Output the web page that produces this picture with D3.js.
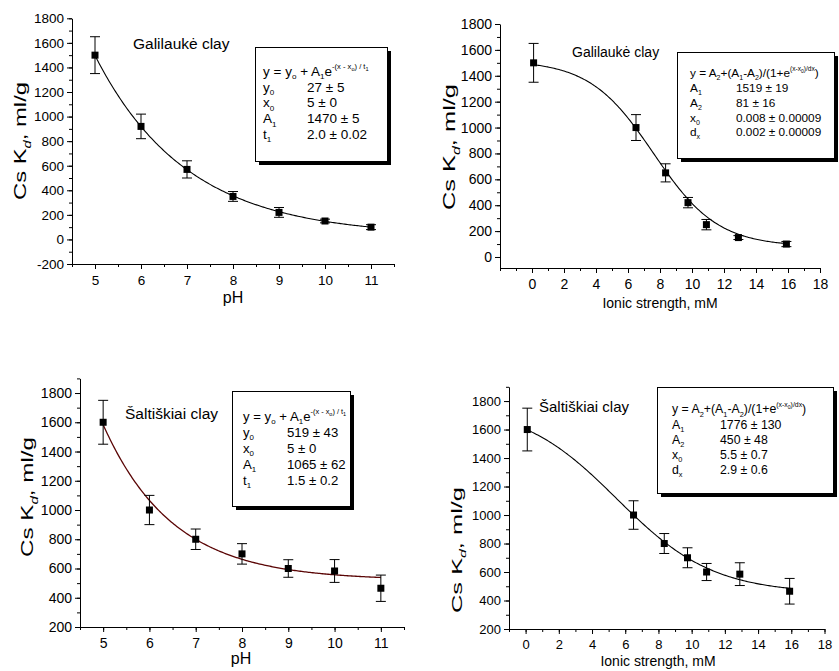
<!DOCTYPE html>
<html>
<head>
<meta charset="utf-8">
<script src="https://cdn.jsdelivr.net/npm/d3@7"></script>
<style>
  body { margin: 0; background: #fff; }
  svg { display: block; }
  text { font-family: "Liberation Sans", Arial, Helvetica, sans-serif; fill: #000; }
</style>
</head>
<body>
<svg id="chart" width="839" height="671"></svg>
<script>
// ---- measured sorption data (Cs Kd, ml/g) ----
const phLevels = [5, 6, 7, 8, 9, 10, 11];
const galilaukePhKd = [1500, 920, 570, 350, 220, 150, 100];
const galilaukePhErr = [150, 100, 70, 40, 40, 15, 20];
const saltiskiaiPhKd = [1600, 1000, 800, 700, 600, 583, 465];
const saltiskiaiPhErr = [150, 100, 70, 70, 60, 78, 90];

const ionicStrength = [0.1, 6.5, 8.35, 9.75, 10.9, 12.9, 15.9]; // mM
const galilaukeIsKd = [1500, 1000, 650, 420, 250, 150, 100];
const galilaukeIsErr = [150, 100, 70, 40, 40, 15, 20];
const saltiskiaiIsKd = [1600, 1000, 800, 700, 600, 585, 465];
const saltiskiaiIsErr = [150, 100, 70, 70, 60, 80, 90];

// ---- fitted model parameters ----
const galilaukePhFit = [27, 5, 1470, 2.0];     // y0, x0, A1, t1
const saltiskiaiPhFit = [519, 5, 1065, 1.5];   // y0, x0, A1, t1
const galilaukeIsFit = [1519, 81, 7.6, 2.0];   // A1, A2, x0 (mM), dx (mM)
const saltiskiaiIsFit = [1776, 450, 5.5, 2.9]; // A1, A2, x0 (mM), dx (mM)

// ---- axis ticks ----
const phTicks = [5, 6, 7, 8, 9, 10, 11];
const ionicTicks = [0, 2, 4, 6, 8, 10, 12, 14, 16, 18];
const kdTicksTop = [-200, 0, 200, 400, 600, 800, 1000, 1200, 1400, 1600, 1800];
const kdTicksIonicTop = [0, 200, 400, 600, 800, 1000, 1200, 1400, 1600, 1800];
const kdTicksBottom = [200, 400, 600, 800, 1000, 1200, 1400, 1600, 1800];

// ---- fit tables ----
const expEquation = [["y = y", ""], ["o", "sub"], [" + A", ""], ["1", "sub"], ["e", ""],
  ["-(x - x", "sup"], ["o", "supsub"], [") / t", "sup"], ["1", "supsub"]];
const sigEquation = [["y = A", ""], ["2", "sub"], ["+(A", ""], ["1", "sub"], ["-A", ""], ["2", "sub"],
  [")/(1+e", ""], ["(x-x", "sup"], ["0", "supsub"], [")/dx", "sup"], [")", ""]];
const galilaukePhRows = [[["y", "0"], "27 ± 5"], [["x", "0"], "5 ± 0"], [["A", "1"], "1470 ± 5"], [["t", "1"], "2.0 ± 0.02"]];
const saltiskiaiPhRows = [[["y", "0"], "519 ± 43"], [["x", "0"], "5 ± 0"], [["A", "1"], "1065 ± 62"], [["t", "1"], "1.5 ± 0.2"]];
const galilaukeIsRows = [[["A", "1"], "1519 ± 19"], [["A", "2"], "81 ± 16"], [["x", "0"], "0.008 ± 0.00009"], [["d", "x"], "0.002 ± 0.00009"]];
const saltiskiaiIsRows = [[["A", "1"], "1776 ± 130"], [["A", "2"], "450 ± 48"], [["x", "0"], "5.5 ± 0.7"], [["d", "x"], "2.9 ± 0.6"]];

const expDecay = p => x => p[0] + p[2] * Math.exp(-(x - p[1]) / p[3]);
const boltzmann = p => x => p[1] + (p[0] - p[1]) / (1 + Math.exp((x - p[2]) / p[3]));

const svg = d3.select("#chart");

// rich text with sub/superscripts, positioned by baseline
function richText(parent, x, y, segs, fs) {
  const t = parent.append("text").attr("x", x).attr("y", y).attr("font-size", fs);
  const mode = {
    "": { off: 0, size: 1 },
    sub: { off: 0.25, size: 0.6 },
    sup: { off: -0.5, size: 0.56 },
    supsub: { off: -0.36, size: 0.42 }
  };
  let cur = 0;
  segs.forEach(([s, m]) => {
    const md = mode[m];
    const off = md.off * fs;
    t.append("tspan").attr("dy", off - cur).attr("font-size", md.size * fs).text(s);
    cur = off;
  });
  return t;
}

function drawPanel(cfg) {
  const g = svg.append("g");
  const x = d3.scaleLinear().domain(cfg.xDomain).range(cfg.xRange);
  const y = d3.scaleLinear().domain(cfg.yDomain).range(cfg.yRange);
  const axisY = cfg.yRange[0], axisX = cfg.xRange[0];

  // minor ticks
  const xMinor = d3.range(cfg.xDomain[0], cfg.xDomain[1] + 1e-9, cfg.xMinorStep);
  const yMinor = d3.range(cfg.yMinorStart, cfg.yDomain[1] + 1e-9, 100);
  g.append("g").attr("transform", `translate(0,${axisY})`)
    .call(d3.axisBottom(x).tickValues(xMinor).tickSize(3).tickSizeOuter(0).tickFormat(""))
    .call(a => a.select(".domain").remove());
  g.append("g").attr("transform", `translate(${axisX},0)`)
    .call(d3.axisLeft(y).tickValues(yMinor).tickSize(3).tickSizeOuter(0).tickFormat(""))
    .call(a => a.select(".domain").remove());

  // major axes
  const xa = g.append("g").attr("transform", `translate(0,${axisY})`)
    .call(d3.axisBottom(x).tickValues(cfg.xTicks).tickSize(5).tickSizeOuter(0).tickPadding(6).tickFormat(d3.format("d")));
  const ya = g.append("g").attr("transform", `translate(${axisX},0)`)
    .call(d3.axisLeft(y).tickValues(cfg.yTicks).tickSize(5).tickSizeOuter(0).tickPadding(3).tickFormat(d3.format("d")));
  [xa, ya].forEach(a => {
    a.selectAll("path,line").attr("stroke", "#000").attr("stroke-width", 1);
    a.selectAll("text").attr("font-size", cfg.tickFont).attr("font-family", "Liberation Sans, Arial, sans-serif").attr("fill", "#000");
  });
  ya.selectAll("text").text(d => d < 0 ? "-" + Math.abs(d) : d);
  g.selectAll(".tick line").attr("stroke", "#000");

  // fit curve
  const xs = d3.range(cfg.fitRange[0], cfg.fitRange[1] + 1e-9, (cfg.fitRange[1] - cfg.fitRange[0]) / 200);
  g.append("path")
    .datum(xs)
    .attr("fill", "none")
    .attr("stroke", cfg.curveColor)
    .attr("stroke-width", cfg.curveWidth)
    .attr("d", d3.line().x(d => x(d)).y(d => y(cfg.model(d))));

  // error bars and markers
  const pts = cfg.xs.map((xv, i) => ({ x: xv, v: cfg.ys[i], e: cfg.errs[i] }));
  const eb = g.append("g").attr("stroke", "#000").attr("stroke-width", 1);
  pts.forEach(p => {
    const cx = x(p.x), top = y(p.v + p.e), bot = y(p.v - p.e);
    eb.append("line").attr("x1", cx).attr("x2", cx).attr("y1", top).attr("y2", bot);
    eb.append("line").attr("x1", cx - 5).attr("x2", cx + 5).attr("y1", top).attr("y2", top);
    eb.append("line").attr("x1", cx - 5).attr("x2", cx + 5).attr("y1", bot).attr("y2", bot);
  });
  g.append("g").selectAll("rect").data(pts).join("rect")
    .attr("x", d => x(d.x) - 3.5).attr("y", d => y(d.v) - 3.5)
    .attr("width", 7).attr("height", 7).attr("fill", "#000");

  // title
  g.append("text").attr("x", cfg.title.x).attr("y", cfg.title.y + cfg.title.fs * 0.36)
    .attr("font-size", cfg.title.fs).text(cfg.title.text);

  // axis titles
  const yl = cfg.yLabel;
  const ylt = g.append("text")
    .attr("transform", `translate(${yl.cx + yl.fs * 0.36},${yl.cy}) rotate(-90)`)
    .attr("text-anchor", "middle")
    .attr("font-size", yl.fs)
    .attr("textLength", yl.len)
    .attr("lengthAdjust", "spacingAndGlyphs");
  ylt.append("tspan").text("Cs K");
  ylt.append("tspan").attr("dy", yl.fs * 0.28).attr("font-size", yl.fs * 0.62).attr("font-style", "italic").text("d");
  ylt.append("tspan").attr("dy", -yl.fs * 0.28).text(", ml/g");

  const xl = cfg.xLabel;
  g.append("text").attr("x", xl.cx).attr("y", xl.cy + xl.fs * 0.36)
    .attr("text-anchor", "middle").attr("font-size", xl.fs).text(xl.text);

  // fit table box with drop shadow
  const b = cfg.box;
  g.append("rect").attr("x", b.x + 4).attr("y", b.y + 4).attr("width", b.w).attr("height", b.h).attr("fill", "#000");
  g.append("rect").attr("x", b.x + 0.5).attr("y", b.y + 0.5).attr("width", b.w).attr("height", b.h)
    .attr("fill", "#fff").attr("stroke", "#000").attr("stroke-width", 1);
  richText(g, b.lx, b.row0 + b.fs * 0.36, b.eq, b.fs);
  b.rows.forEach((r, i) => {
    const yy = b.row0 + (i + 1) * b.dy + b.fs * 0.36;
    richText(g, b.lx, yy, [[r[0][0], ""], [r[0][1], "sub"]], b.fs);
    g.append("text").attr("x", b.vx).attr("y", yy).attr("font-size", b.fs).text(r[1]);
  });
}

// Galilaukė clay, Kd vs pH
drawPanel({
  xDomain: [4.5, 11.5], xRange: [72, 394], xTicks: phTicks, xMinorStep: 0.5,
  yDomain: [-200, 1800], yRange: [264, 18.3], yTicks: kdTicksTop, yMinorStart: -200,
  tickFont: 13.5,
  xs: phLevels, ys: galilaukePhKd, errs: galilaukePhErr,
  model: expDecay(galilaukePhFit), fitRange: [5, 11], curveColor: "#000", curveWidth: 1.1,
  title: { text: "Galilaukė clay", x: 133, y: 43, fs: 15.5 },
  yLabel: { cx: 20, cy: 141, fs: 17, len: 118 },
  xLabel: { text: "pH", cx: 233, cy: 297, fs: 16 },
  box: { x: 255, y: 47, w: 132, h: 114, lx: 263, vx: 307, row0: 71, dy: 15.8, fs: 13.5,
         eq: expEquation, rows: galilaukePhRows }
});

// Galilaukė clay, Kd vs ionic strength
drawPanel({
  xDomain: [-2, 18], xRange: [500, 820], xTicks: ionicTicks, xMinorStep: 1,
  yDomain: [-85, 1800], yRange: [268, 24], yTicks: kdTicksIonicTop, yMinorStart: 0,
  tickFont: 14,
  xs: ionicStrength, ys: galilaukeIsKd, errs: galilaukeIsErr,
  model: boltzmann(galilaukeIsFit), fitRange: [0.1, 16], curveColor: "#000", curveWidth: 1.1,
  title: { text: "Galilaukė clay", x: 572, y: 52, fs: 14 },
  yLabel: { cx: 449, cy: 147, fs: 16.5, len: 126 },
  xLabel: { text: "Ionic strength, mM", cx: 660, cy: 303, fs: 14 },
  box: { x: 677, y: 52, w: 157, h: 106, lx: 690, vx: 736, row0: 73, dy: 14.8, fs: 11.8,
         eq: sigEquation, rows: galilaukeIsRows }
});

// Šaltiškiai clay, Kd vs pH
drawPanel({
  xDomain: [4.5, 11.5], xRange: [80, 404], xTicks: phTicks, xMinorStep: 0.5,
  yDomain: [200, 1900], yRange: [627, 378.4], yTicks: kdTicksBottom, yMinorStart: 200,
  tickFont: 14,
  xs: phLevels, ys: saltiskiaiPhKd, errs: saltiskiaiPhErr,
  model: expDecay(saltiskiaiPhFit), fitRange: [5, 11], curveColor: "#5a0505", curveWidth: 1.3,
  title: { text: "Šaltiškiai clay", x: 125, y: 413, fs: 15.5 },
  yLabel: { cx: 27, cy: 497, fs: 17, len: 120 },
  xLabel: { text: "pH", cx: 241, cy: 658, fs: 16 },
  box: { x: 232, y: 391, w: 118, h: 115, lx: 243, vx: 287, row0: 416, dy: 16, fs: 13.2,
         eq: expEquation, rows: saltiskiaiPhRows }
});

// Šaltiškiai clay, Kd vs ionic strength
drawPanel({
  xDomain: [-1, 18], xRange: [509, 824.5], xTicks: ionicTicks, xMinorStep: 1,
  yDomain: [200, 1900], yRange: [629, 386.8], yTicks: kdTicksBottom, yMinorStart: 200,
  tickFont: 13,
  xs: ionicStrength, ys: saltiskiaiIsKd, errs: saltiskiaiIsErr,
  model: boltzmann(saltiskiaiIsFit), fitRange: [0.1, 16], curveColor: "#000", curveWidth: 1.1,
  title: { text: "Šaltiškiai clay", x: 539, y: 407, fs: 15 },
  yLabel: { cx: 457, cy: 550, fs: 14.5, len: 126 },
  xLabel: { text: "Ionic strength, mM", cx: 658, cy: 661, fs: 14 },
  box: { x: 657, y: 387, w: 176, h: 106, lx: 672, vx: 720, row0: 409, dy: 15.2, fs: 12.3,
         eq: sigEquation, rows: saltiskiaiIsRows }
});
</script>
</body>
</html>
